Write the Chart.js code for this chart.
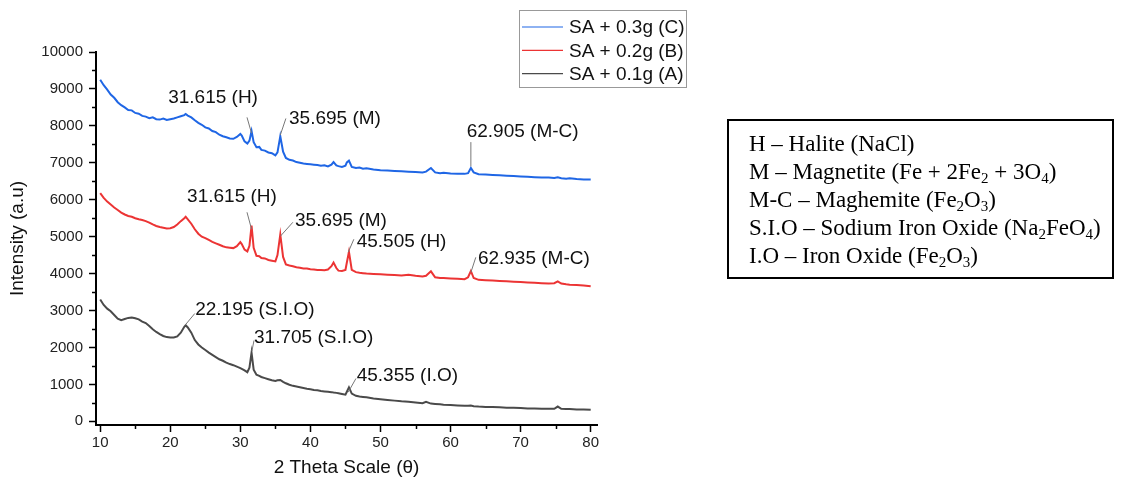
<!DOCTYPE html>
<html>
<head>
<meta charset="utf-8">
<title>XRD patterns</title>
<script src="https://cdn.jsdelivr.net/npm/chart.js@4.4.1/dist/chart.umd.min.js"></script>
<style>
  html, body { margin: 0; padding: 0; background: #fff; }
  #wrap { position: relative; width: 1129px; height: 477px; }
</style>
</head>
<body>
<div id="wrap"><canvas id="xrdChart" width="1129" height="477"></canvas></div>
<script>
// 2 theta positions (deg) shared by all three patterns
const twoTheta = [
  10, 10.5, 11, 11.5, 12, 12.5, 13, 13.5, 14, 14.5,
  15, 15.5, 16, 16.5, 17, 17.5, 18, 18.5, 19, 19.5,
  20, 20.5, 21, 21.5, 22, 22.2, 22.5, 23, 23.5, 24,
  24.5, 25, 25.5, 26, 26.5, 27, 27.5, 28, 28.5, 29,
  29.5, 30, 30.2, 30.6, 31, 31.3, 31.6, 31.9, 32.3, 32.7,
  33, 33.5, 34, 34.5, 35, 35.3, 35.7, 36.1, 36.5, 37,
  37.5, 38, 38.5, 39, 39.5, 40, 40.5, 41, 41.5, 42,
  42.5, 43, 43.3, 43.7, 44, 44.5, 45, 45.2, 45.5, 45.9,
  46.5, 47, 47.5, 48, 49, 50, 51, 52, 53, 54,
  55, 56, 56.5, 57.2, 57.8, 58.5, 59, 60, 61, 62,
  62.5, 62.9, 63.3, 64, 65, 66, 67, 68, 69, 70,
  71, 72, 73, 74, 74.8, 75.3, 75.8, 76.5, 77, 78,
  79, 80
];

// SA + 0.3g (C)
const sampleC = [
  9250, 9100, 8980, 8850, 8760, 8640, 8560, 8500, 8430, 8420,
  8350, 8330, 8270, 8250, 8210, 8230, 8180, 8170, 8200, 8160,
  8180, 8200, 8230, 8260, 8290, 8320, 8280, 8230, 8150, 8080,
  8030, 7960, 7930, 7860, 7830, 7760, 7720, 7690, 7660, 7650,
  7700, 7780, 7740, 7580, 7520, 7600, 7860, 7560, 7420, 7430,
  7350, 7330, 7280, 7260, 7200, 7280, 7720, 7300, 7130, 7080,
  7060, 7020, 7000, 6980, 6970, 6960, 6950, 6940, 6920, 6930,
  6900, 6950, 7020, 6930, 6910, 6890, 6920, 7010, 7060, 6890,
  6860, 6870, 6840, 6850, 6820, 6800, 6790, 6780, 6770, 6760,
  6750, 6740, 6760, 6860, 6740, 6720, 6730, 6710, 6700, 6700,
  6720, 6860, 6740, 6690, 6680, 6670, 6660, 6650, 6640, 6630,
  6620, 6610, 6600, 6600, 6590, 6610, 6580, 6570, 6580, 6560,
  6550, 6550
];

// SA + 0.2g (B)
const sampleB = [
  6180, 6050, 5950, 5870, 5790, 5720, 5650, 5600, 5560, 5540,
  5500, 5470, 5450, 5420, 5380, 5330, 5290, 5260, 5240, 5220,
  5230, 5260, 5330, 5420, 5500, 5540, 5470, 5350, 5200, 5080,
  5000, 4960, 4910, 4860, 4820, 4780, 4740, 4710, 4700, 4690,
  4740, 4850, 4800, 4650, 4600, 4750, 5300, 4700, 4480, 4470,
  4420, 4410, 4370, 4350, 4330, 4500, 5060, 4450, 4250, 4220,
  4200, 4170, 4160, 4140, 4140, 4120, 4110, 4100, 4100, 4090,
  4110, 4200, 4300, 4150, 4080, 4070, 4100, 4300, 4590, 4100,
  4040, 4020, 4010, 4000, 3990, 3980, 3970, 3960, 3950, 3970,
  3940, 3920, 3940, 4060, 3900, 3880, 3880, 3870, 3860, 3850,
  3900, 4070, 3880, 3830, 3820, 3810, 3800, 3790, 3780, 3770,
  3760, 3750, 3740, 3730, 3740, 3790, 3730, 3710, 3700, 3690,
  3680, 3660
];

// SA + 0.1g (A)
const sampleA = [
  3300, 3150, 3050, 2980, 2880, 2780, 2740, 2770, 2800, 2810,
  2790, 2760, 2700, 2660, 2580, 2490, 2420, 2360, 2310, 2280,
  2270, 2270, 2300, 2400, 2560, 2600, 2540, 2400, 2200, 2080,
  2000, 1930, 1860, 1800, 1740, 1680, 1640, 1590, 1550, 1520,
  1480, 1440, 1420, 1380, 1330, 1450, 1860, 1400, 1260, 1230,
  1200, 1170, 1140, 1110, 1090, 1110, 1120, 1070, 1030, 990,
  960, 940, 920, 900, 880, 870, 850, 840, 820, 810,
  800, 790, 780, 770, 760, 740, 720, 800, 920, 750,
  690, 670, 660, 650, 620, 600, 580, 560, 540, 530,
  510, 490, 530, 480, 470, 460, 450, 440, 430, 420,
  420, 430, 410, 400, 390, 390, 380, 370, 370, 360,
  350, 350, 340, 340, 340, 400, 340, 330, 330, 320,
  320, 310
];

const seriesNames = ['SA + 0.3g (C)', 'SA + 0.2g (B)', 'SA + 0.1g (A)'];
const xTickValues = [10, 20, 30, 40, 50, 60, 70, 80];
const yTickValues = [0, 1000, 2000, 3000, 4000, 5000, 6000, 7000, 8000, 9000, 10000];

// peak callouts: leader from -> to, text starts at "at" (all in data units)
const peakLabels = [
  { text: '31.615 (H)', from: [31.6, 7800], to: [30.95, 8230], at: [19.7, 8773] },
  { text: '35.695 (M)', from: [35.7, 7750], to: [36.5, 8200], at: [36.95, 8180] },
  { text: '62.905 (M-C)', from: [62.9, 6900], to: [62.9, 7560], at: [62.3, 7850] },
  { text: '31.615 (H)', from: [31.6, 5200], to: [30.95, 5660], at: [22.4, 6090] },
  { text: '35.695 (M)', from: [35.7, 5010], to: [37.5, 5390], at: [37.8, 5440] },
  { text: '45.505 (H)', from: [45.4, 4580], to: [46.2, 4930], at: [46.6, 4850] },
  { text: '62.935 (M-C)', from: [62.9, 4030], to: [63.6, 4440], at: [63.9, 4390] },
  { text: '22.195 (S.I.O)', from: [22.1, 2600], to: [23.5, 2920], at: [23.55, 3030] },
  { text: '31.705 (S.I.O)', from: [31.65, 1900], to: [31.95, 2190], at: [31.95, 2270] },
  { text: '45.355 (I.O)', from: [45.4, 790], to: [46.5, 1160], at: [46.6, 1220] }
];

// phase key, pieces flagged 1 are subscripts
const phaseKey = [
  [['H \u2013 Halite (NaCl)', 0]],
  [['M \u2013 Magnetite (Fe + 2Fe', 0], ['2', 1], [' + 3O', 0], ['4', 1], [')', 0]],
  [['M-C \u2013 Maghemite (Fe', 0], ['2', 1], ['O', 0], ['3', 1], [')', 0]],
  [['S.I.O \u2013 Sodium Iron Oxide (Na', 0], ['2', 1], ['FeO', 0], ['4', 1], [')', 0]],
  [['I.O \u2013 Iron Oxide (Fe', 0], ['2', 1], ['O', 0], ['3', 1], [')', 0]]
];

const colors = ['#1f66e5', '#ec3434', '#4a4a4a'];
const sans = '"Liberation Sans", Arial, sans-serif';
const serif = '"Liberation Serif", "Times New Roman", serif';

const toPoints = (ys) => twoTheta.map((x, i) => ({ x: x, y: ys[i] }));

const extras = {
  id: 'extras',
  afterDraw(chart) {
    const ctx = chart.ctx;
    const xs = chart.scales.x;
    const ys = chart.scales.y;
    const area = chart.chartArea;
    ctx.save();

    // minor ticks
    ctx.strokeStyle = '#000';
    ctx.lineWidth = 1.5;
    ctx.beginPath();
    for (let v = 500; v < 10000; v += 1000) {
      const py = Math.round(ys.getPixelForValue(v)) + 0.5;
      ctx.moveTo(area.left - 4, py);
      ctx.lineTo(area.left, py);
    }
    for (let v = 15; v < 80; v += 10) {
      const px = Math.round(xs.getPixelForValue(v)) + 0.5;
      ctx.moveTo(px, area.bottom);
      ctx.lineTo(px, area.bottom + 4);
    }
    ctx.stroke();

    // peak callouts
    ctx.strokeStyle = '#777';
    ctx.lineWidth = 1;
    ctx.fillStyle = '#111';
    ctx.font = '19px ' + sans;
    ctx.textAlign = 'left';
    ctx.textBaseline = 'middle';
    peakLabels.forEach(p => {
      ctx.beginPath();
      ctx.moveTo(xs.getPixelForValue(p.from[0]), ys.getPixelForValue(p.from[1]));
      ctx.lineTo(xs.getPixelForValue(p.to[0]), ys.getPixelForValue(p.to[1]));
      ctx.stroke();
      ctx.fillText(p.text, xs.getPixelForValue(p.at[0]), ys.getPixelForValue(p.at[1]));
    });

    // axis titles
    ctx.fillStyle = '#111';
    ctx.textAlign = 'center';
    ctx.fillText('2 Theta Scale (\u03b8)', (area.left + area.right) / 2, 468);
    ctx.save();
    ctx.translate(18, (area.top + area.bottom) / 2);
    ctx.rotate(-Math.PI / 2);
    ctx.fillText('Intensity (a.u)', 0, 0);
    ctx.restore();

    // legend
    ctx.strokeStyle = '#999';
    ctx.lineWidth = 1;
    ctx.strokeRect(519.5, 10.5, 167, 77);
    seriesNames.forEach((name, i) => {
      const y = 27 + i * 23.3;
      ctx.strokeStyle = colors[i];
      ctx.lineWidth = 1.2;
      ctx.beginPath();
      ctx.moveTo(522, y);
      ctx.lineTo(563, y);
      ctx.stroke();
      ctx.fillStyle = '#111';
      ctx.textAlign = 'left';
      ctx.fillText(name, 569, y + 1);
    });

    // phase key box
    ctx.strokeStyle = '#000';
    ctx.lineWidth = 2;
    ctx.strokeRect(728, 120, 385, 158);
    ctx.fillStyle = '#000';
    ctx.textBaseline = 'alphabetic';
    phaseKey.forEach((line, i) => {
      let x = 749;
      const base = 151 + i * 28;
      line.forEach(([txt, sub]) => {
        ctx.font = (sub ? '15px ' : '23px ') + serif;
        ctx.fillText(txt, x, sub ? base + 4 : base);
        x += ctx.measureText(txt).width;
      });
    });

    ctx.restore();
  }
};

const axisFont = { family: sans, size: 15 };

new Chart(document.getElementById('xrdChart'), {
  type: 'line',
  data: {
    datasets: [
      { label: seriesNames[0], data: toPoints(sampleC), borderColor: colors[0] },
      { label: seriesNames[1], data: toPoints(sampleB), borderColor: colors[1] },
      { label: seriesNames[2], data: toPoints(sampleA), borderColor: colors[2] }
    ]
  },
  options: {
    responsive: false,
    animation: false,
    events: [],
    layout: { padding: { top: 52, right: 532, bottom: 0, left: 0 } },
    elements: {
      line: { borderWidth: 2, tension: 0 },
      point: { radius: 0 }
    },
    plugins: {
      legend: { display: false },
      tooltip: { enabled: false }
    },
    scales: {
      x: {
        type: 'linear',
        min: 9.4,
        max: 80.9,
        afterFit: s => { s.height = 52; },
        afterBuildTicks: s => { s.ticks = xTickValues.map(v => ({ value: v })); },
        border: { color: '#000', width: 2 },
        grid: { drawOnChartArea: false, drawTicks: true, tickLength: 7, tickColor: '#000', tickWidth: 1.5 },
        ticks: { color: '#222', font: axisFont, padding: 2, maxRotation: 0, autoSkip: false, callback: v => String(v) }
      },
      y: {
        type: 'linear',
        min: -100,
        max: 10000,
        afterFit: s => { s.width = 96; },
        afterBuildTicks: s => { s.ticks = yTickValues.map(v => ({ value: v })); },
        border: { color: '#000', width: 2 },
        grid: { drawOnChartArea: false, drawTicks: true, tickLength: 7, tickColor: '#000', tickWidth: 1.5 },
        ticks: { color: '#222', font: axisFont, padding: 6, autoSkip: false, callback: v => String(v) }
      }
    }
  },
  plugins: [extras]
});
</script>
</body>
</html>
